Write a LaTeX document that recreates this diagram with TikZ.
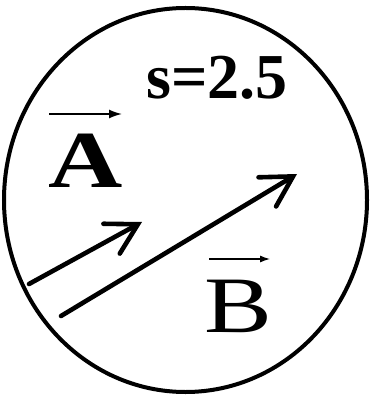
\documentclass[tikz,border=0pt]{standalone}
\usepackage{fontspec}
\newfontfamily\timesfont{Liberation Serif}[BoldFont={Liberation Serif Bold}]
\usetikzlibrary{arrows.meta,positioning,shapes.geometric}

\begin{document}
\begin{tikzpicture}[
  x=1pt,y=-1pt,
  rim/.style={draw=black,line width=4pt},
  vecline/.style={line width=4.6pt,line cap=round,
              -{Straight Barb[length=30pt,width=34pt,line cap=round]}},
  overarrow/.style={line width=1.6pt,-{Latex[length=13pt,width=9pt]}},
  letter/.style={inner sep=0pt,anchor=center}
]
\useasboundingbox (0,0) rectangle (372,395);
\node[rim,ellipse,minimum width=363pt,minimum height=384pt,inner sep=0pt] (disk) at (185.5,200) {};

\node[letter,font=\timesfont\fontsize{64}{64}\selectfont\bfseries] (scale) at (217,78) {s=2.5};
\node[letter,font=\timesfont\fontsize{81}{81}\selectfont\bfseries] (lblA) at (86,161) {\scalebox{1.27}[1]{A}};
\node[letter,font=\timesfont\fontsize{80}{80}\selectfont] (lblB) at (238,306) {\scalebox{1.27}[1]{B}};

\coordinate (a0) at (49,114);
\coordinate (a1) at (122,114);
\coordinate (b0) at (209,259);
\coordinate (b1) at (270,259);
\draw[overarrow] (a0) -- (a1);
\draw[overarrow,line width=1.2pt,-{Latex[length=10pt,width=7pt]}] (b0) -- (b1);

\coordinate (s0) at (29,284);
\coordinate (s1) at (142,222);
\coordinate (l0) at (61,316);
\coordinate (l1) at (297,174);
\draw[vecline] (s0) -- (s1);
\draw[vecline] (l0) -- (l1);
\end{tikzpicture}
\end{document}
